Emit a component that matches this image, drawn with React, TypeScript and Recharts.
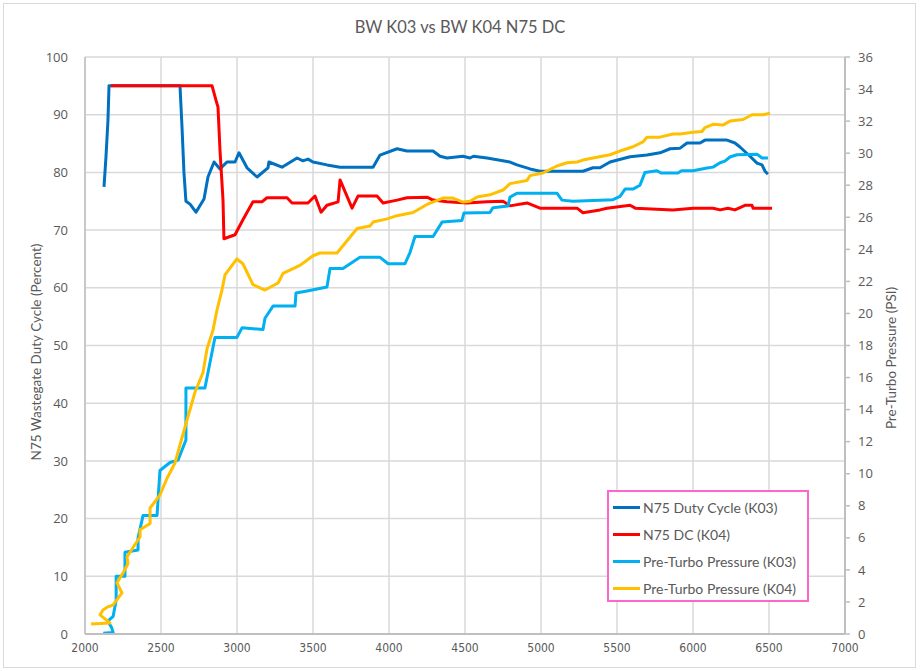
import React from 'react';
import { LineChart, Line, XAxis, YAxis, CartesianGrid, Legend } from 'recharts';

// ---- Data ----
const RPM_TICKS = [2000, 2500, 3000, 3500, 4000, 4500, 5000, 5500, 6000, 6500, 7000];
const DC_TICKS = [0, 10, 20, 30, 40, 50, 60, 70, 80, 90, 100];
const PSI_TICKS = [0, 2, 4, 6, 8, 10, 12, 14, 16, 18, 20, 22, 24, 26, 28, 30, 32, 34, 36];

const K03_DC_RPM = [2125, 2138, 2151, 2158, 2625, 2638, 2651, 2664, 2691, 2730, 2783, 2809, 2849, 2888, 2934, 2987, 3013, 3066, 3132, 3204, 3210, 3296, 3395, 3434, 3467, 3500, 3592, 3678, 3895, 3941, 4053, 4118, 4290, 4336, 4382, 4487, 4533, 4555, 4645, 4796, 4842, 4928, 4993, 5276, 5342, 5388, 5454, 5586, 5697, 5783, 5849, 5915, 5961, 6046, 6079, 6224, 6276, 6309, 6375, 6421, 6454, 6474, 6493];
const K03_DC = [77.5, 82.7, 89, 95, 95, 88, 80, 75, 74.5, 73.1, 75.4, 79.2, 81.8, 80.6, 81.8, 81.8, 83.4, 80.8, 79.2, 80.8, 81.8, 80.9, 82.5, 82, 82.3, 81.8, 81.3, 80.9, 80.9, 83, 84.1, 83.7, 83.7, 82.8, 82.5, 82.8, 82.5, 82.8, 82.5, 81.8, 81.3, 80.6, 80.2, 80.2, 80.8, 80.8, 81.8, 82.7, 83, 83.4, 84.1, 84.2, 85.1, 85.1, 85.6, 85.6, 85.1, 84.4, 82.8, 81.6, 81.3, 80.2, 79.7];

const K04_DC_RPM = [2170, 2836, 2862, 2875, 2888, 2908, 2914, 2987, 3039, 3105, 3164, 3197, 3329, 3362, 3467, 3513, 3553, 3592, 3665, 3678, 3757, 3796, 3921, 3961, 4053, 4118, 4250, 4290, 4382, 4513, 4645, 4750, 4796, 4908, 4993, 5237, 5276, 5388, 5434, 5586, 5620, 5868, 6000, 6132, 6178, 6230, 6276, 6342, 6388, 6395, 6520];
const K04_DC = [95, 95, 92.5, 91.3, 83.9, 75.2, 68.5, 69.2, 71.8, 74.9, 74.9, 75.6, 75.6, 74.7, 74.7, 75.9, 73.1, 74.3, 74.9, 78.7, 73.8, 75.9, 75.9, 74.7, 75.2, 75.6, 75.7, 75.2, 74.9, 74.7, 74.9, 75, 74.2, 74.7, 73.8, 73.8, 73, 73.5, 73.8, 74.3, 73.8, 73.5, 73.8, 73.8, 73.5, 73.8, 73.5, 74.3, 74.3, 73.8, 73.8];

const K03_PSI_RPM = [2120, 2185, 2175, 2150, 2185, 2205, 2205, 2263, 2263, 2349, 2349, 2382, 2474, 2493, 2559, 2612, 2664, 2664, 2789, 2855, 2999, 3033, 3171, 3184, 3237, 3382, 3388, 3461, 3592, 3612, 3697, 3809, 3941, 3994, 4105, 4138, 4171, 4290, 4349, 4480, 4493, 4664, 4684, 4783, 4796, 4842, 5105, 5138, 5210, 5474, 5520, 5553, 5605, 5651, 5684, 5763, 5790, 5901, 5925, 6000, 6092, 6132, 6178, 6210, 6243, 6289, 6421, 6454, 6493];
const K03_PSI = [0.05, 0.1, 0.4, 0.8, 1.1, 2.1, 3.6, 3.6, 5.1, 5.24, 6.0, 7.4, 7.4, 10.2, 10.7, 10.85, 12.1, 15.35, 15.35, 18.5, 18.5, 19.1, 19.0, 19.7, 20.46, 20.46, 21.27, 21.4, 21.65, 22.8, 22.8, 23.5, 23.5, 23.1, 23.1, 23.8, 24.8, 24.8, 25.7, 25.8, 26.26, 26.3, 26.6, 26.7, 27.26, 27.5, 27.5, 27.07, 27.0, 27.1, 27.3, 27.76, 27.76, 28.0, 28.8, 28.9, 28.76, 28.76, 28.9, 28.9, 29.07, 29.13, 29.4, 29.5, 29.76, 29.9, 29.94, 29.7, 29.7];

const K04_PSI_RPM = [2040, 2164, 2099, 2118, 2151, 2184, 2243, 2210, 2250, 2283, 2276, 2316, 2362, 2362, 2428, 2428, 2493, 2539, 2592, 2625, 2671, 2724, 2776, 2803, 2842, 2868, 2901, 2921, 2999, 3039, 3105, 3184, 3270, 3303, 3414, 3500, 3546, 3658, 3790, 3875, 3895, 3987, 4053, 4158, 4250, 4355, 4421, 4487, 4533, 4579, 4664, 4750, 4796, 4908, 4928, 5013, 5040, 5105, 5171, 5237, 5276, 5342, 5454, 5540, 5605, 5671, 5697, 5783, 5868, 5915, 6000, 6059, 6079, 6132, 6197, 6243, 6329, 6388, 6461, 6507];
const K04_PSI = [0.62, 0.69, 1.19, 1.5, 1.7, 1.8, 2.56, 3.2, 3.8, 4.4, 4.8, 5.4, 6.05, 6.5, 6.9, 7.86, 8.67, 9.7, 10.67, 11.8, 13.35, 15.1, 16.3, 17.8, 18.96, 20.2, 21.46, 22.4, 23.4, 23.1, 21.8, 21.46, 21.9, 22.5, 23.0, 23.6, 23.77, 23.77, 25.3, 25.45, 25.7, 25.9, 26.1, 26.3, 26.8, 27.2, 27.2, 26.95, 27.0, 27.26, 27.4, 27.7, 28.1, 28.3, 28.6, 28.76, 28.9, 29.2, 29.4, 29.45, 29.57, 29.7, 29.9, 30.2, 30.4, 30.7, 31.0, 31.0, 31.2, 31.2, 31.3, 31.35, 31.6, 31.8, 31.75, 32.0, 32.1, 32.4, 32.4, 32.5];

const SERIES_NAMES = ['N75 Duty Cycle (K03)', 'N75 DC (K04)', 'Pre-Turbo Pressure (K03)', 'Pre-Turbo Pressure (K04)'];

const toPoints = (xs: number[], ys: number[]) => xs.map((x, i) => ({ x, y: ys[i] }));

const k03Dc = toPoints(K03_DC_RPM, K03_DC);
const k04Dc = toPoints(K04_DC_RPM, K04_DC);
const k03Psi = toPoints(K03_PSI_RPM, K03_PSI);
const k04Psi = toPoints(K04_PSI_RPM, K04_PSI);

const TEXT = '#595959';
const GRID = '#D9D9D9';
const AXIS = '#BFBFBF';
const FONT = 'Lato, "Open Sans", sans-serif';

const renderLegend = (props: any) => {
  const payload = [...(props.payload || [])].sort(
    (a: any, b: any) => SERIES_NAMES.indexOf(a.value) - SERIES_NAMES.indexOf(b.value)
  );
  return (
    <div
      style={{
        width: 202,
        height: 112,
        boxSizing: 'border-box',
        border: '2px solid #FF66CC',
        background: '#fff',
        paddingTop: 2,
        fontFamily: FONT,
      }}
    >
      {payload.map((p: any, i: number) => (
        <div key={i} style={{ height: 27, display: 'flex', alignItems: 'center', paddingLeft: 4 }}>
          <div style={{ width: 27, height: 3, background: p.color, marginRight: 3 }} />
          <span style={{ color: TEXT, fontSize: 14, whiteSpace: 'nowrap' }}>{p.value}</span>
        </div>
      ))}
    </div>
  );
};

export default function App() {
  return (
    <div style={{ position: 'absolute', left: 0, top: 0, width: 920, height: 671, background: '#fff', fontFamily: FONT }}>
      <div style={{ position: 'absolute', left: 3, top: 3, width: 911, height: 663, border: `1px solid ${GRID}` }} />
      <div
        style={{
          position: 'absolute',
          left: 0,
          width: 920,
          top: 17,
          textAlign: 'center',
          fontSize: 16.5,
          color: TEXT,
          whiteSpace: 'nowrap',
        }}
      >
        BW K03 vs BW K04 N75 DC
      </div>
      <div
        style={{
          position: 'absolute',
          left: 36,
          top: 352,
          transform: 'translate(-50%, -50%) rotate(-90deg)',
          fontSize: 13.5,
          color: TEXT,
          whiteSpace: 'nowrap',
        }}
      >
        N75 Wastegate Duty Cycle (Percent)
      </div>
      <div
        style={{
          position: 'absolute',
          left: 891,
          top: 358,
          transform: 'translate(-50%, -50%) rotate(-90deg)',
          fontSize: 13.5,
          color: TEXT,
          whiteSpace: 'nowrap',
        }}
      >
        Pre-Turbo Pressure (PSI)
      </div>
      <div style={{ position: 'absolute', left: 0, top: 0 }}>
        <LineChart width={920} height={671} margin={{ top: 57, right: 20, bottom: 12, left: 25 }}>
          <CartesianGrid yAxisId="left" stroke={GRID} strokeWidth={1.5} />
          <XAxis
            dataKey="x"
            type="number"
            domain={[2000, 7000]}
            ticks={RPM_TICKS}
            allowDataOverflow
            height={25}
            tickSize={0}
            tickMargin={9}
            axisLine={{ stroke: AXIS, strokeWidth: 2 }}
            tickLine={false}
            tick={{ fill: TEXT, fontSize: 12, fontFamily: '"Liberation Sans Narrow", "DejaVu Sans Condensed", sans-serif' }}
          />
          <YAxis
            yAxisId="left"
            orientation="left"
            domain={[0, 100]}
            ticks={DC_TICKS}
            width={60}
            tickSize={0}
            tickMargin={17}
            axisLine={{ stroke: AXIS, strokeWidth: 1.5 }}
            tickLine={false}
            tick={{ fill: TEXT, fontSize: 13, fontFamily: '"Open Sans", sans-serif' }}
          />
          <YAxis
            yAxisId="right"
            orientation="right"
            domain={[0, 36]}
            ticks={PSI_TICKS}
            width={55}
            tickSize={5}
            tickMargin={8}
            axisLine={{ stroke: AXIS, strokeWidth: 2 }}
            tickLine={{ stroke: AXIS, strokeWidth: 1.5 }}
            tick={{ fill: TEXT, fontSize: 13, fontFamily: '"Open Sans", sans-serif' }}
          />
          <Legend
            layout="vertical"
            align="center"
            verticalAlign="middle"
            content={renderLegend}
            wrapperStyle={{ left: 607, top: 490, width: 202, height: 112 }}
          />
          <Line yAxisId="left" data={k03Dc} dataKey="y" name={SERIES_NAMES[0]} stroke="#0070C0" strokeWidth={3} dot={false} isAnimationActive={false} strokeLinejoin="round" />
          <Line yAxisId="left" data={k04Dc} dataKey="y" name={SERIES_NAMES[1]} stroke="#FF0000" strokeWidth={3} dot={false} isAnimationActive={false} strokeLinejoin="round" />
          <Line yAxisId="right" data={k03Psi} dataKey="y" name={SERIES_NAMES[2]} stroke="#00B0F0" strokeWidth={3} dot={false} isAnimationActive={false} strokeLinejoin="round" />
          <Line yAxisId="right" data={k04Psi} dataKey="y" name={SERIES_NAMES[3]} stroke="#FFC000" strokeWidth={3} dot={false} isAnimationActive={false} strokeLinejoin="round" />
        </LineChart>
      </div>
    </div>
  );
}
